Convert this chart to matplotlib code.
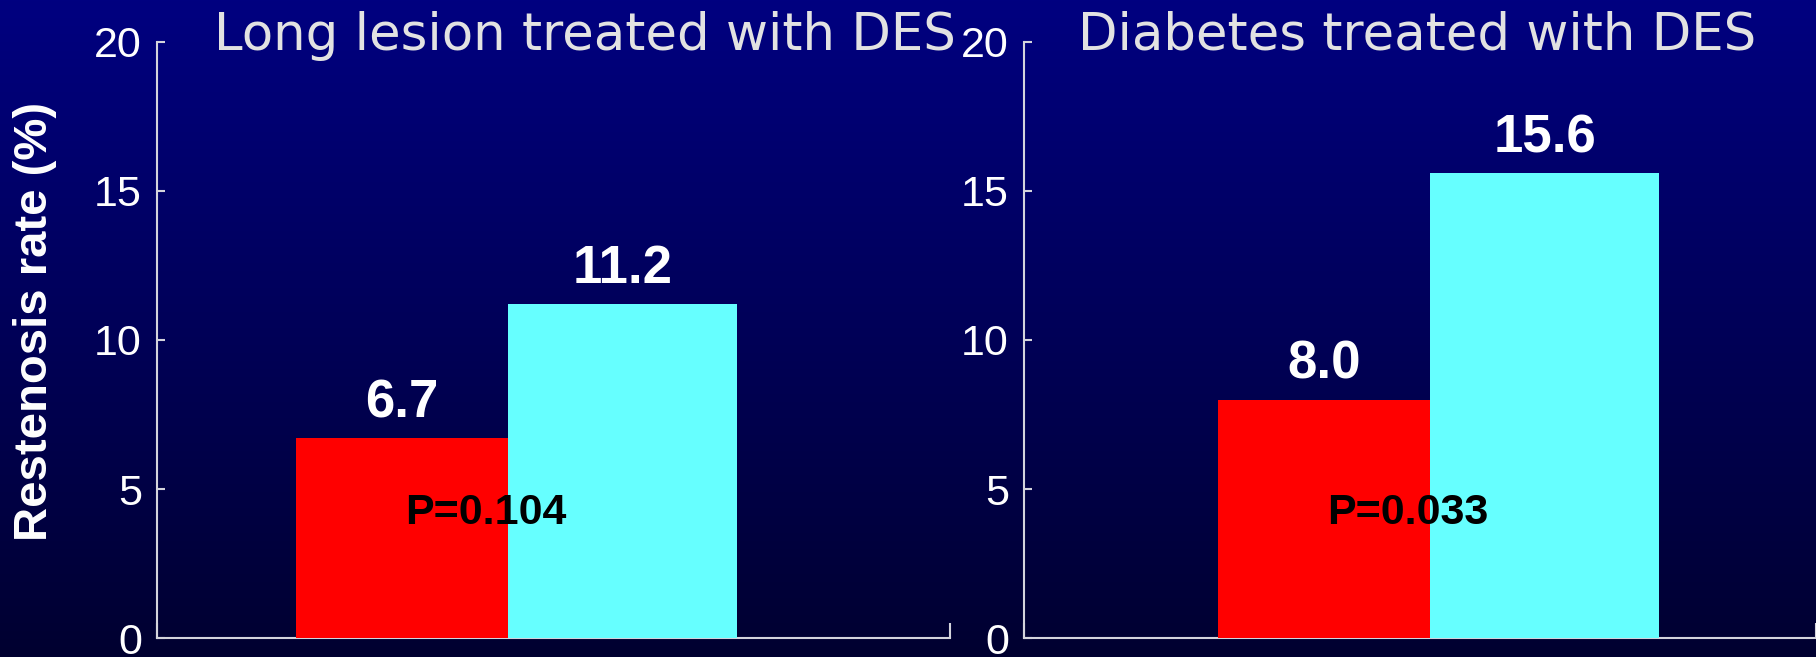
import numpy as np
import matplotlib.pyplot as plt
from matplotlib.colors import LinearSegmentedColormap

# --- restenosis data ---
groups = ['Long lesion treated with DES', 'Diabetes treated with DES']
red_vals = [6.7, 8.0]
cyan_vals = [11.2, 15.6]
p_labels = ['P=0.104', 'P=0.033']
yticks = [0, 5, 10, 15, 20]

AXIS_COL = '#d4d4dc'
RED = '#ff0000'
CYAN = '#66ffff'
TITLE_COL = '#e2e2e2'

fig = plt.figure(figsize=(18.16, 6.57), dpi=100)

# navy -> near-black vertical gradient behind everything
bg = fig.add_axes([0, 0, 1, 1], zorder=-10)
grad = np.linspace(0, 1, 256).reshape(-1, 1)
cmap = LinearSegmentedColormap.from_list('bg', ['#000080', '#000030'])
bg.imshow(grad, aspect='auto', cmap=cmap, extent=[0, 1, 0, 1], origin='upper')
bg.axis('off')

# axes boxes, bar widths and x-limits for each panel
panels = [
    dict(rect=[0.0865, 0.0289, 0.4367, 0.9072], xlim=(-1.110, 2.486),
         title_x=585 / 1816),
    dict(rect=[0.5639, 0.0289, 0.4361, 0.9072], xlim=(-1.361, 2.231),
         title_x=1417 / 1816),
]
widths = [0.961, 1.039]

for i, p in enumerate(panels):
    ax = fig.add_axes(p['rect'])
    ax.set_facecolor('none')
    ax.bar(0, red_vals[i], width=widths[0], color=RED, zorder=3)
    ax.bar(1, cyan_vals[i], width=widths[1], color=CYAN, zorder=3)

    for x, v in [(0, red_vals[i]), (1, cyan_vals[i])]:
        ax.annotate(f'{v:.1f}', xy=(x, v), xytext=(0, 15),
                    textcoords='offset points', ha='center', va='baseline',
                    color='white', fontsize=38, fontweight='bold',
                    family=['Liberation Sans'], zorder=5)

    ax.text(0.38, 4.2, p_labels[i], ha='center', va='center',
            fontsize=31, fontweight='bold', color='black',
            family=['Liberation Sans Narrow', 'Liberation Sans'], zorder=5)

    ax.set_xlim(*p['xlim'])
    ax.set_ylim(0, 20)
    ax.set_yticks(yticks)
    ax.set_xticks(list(p['xlim']))
    ax.set_xticklabels([])
    ax.tick_params(axis='y', direction='in', length=6, width=1.5,
                   color=AXIS_COL, labelcolor='white', labelsize=31, pad=11)
    ax.tick_params(axis='x', direction='in', length=11, width=1.5,
                   color=AXIS_COL)
    for lbl in ax.get_yticklabels():
        lbl.set_family(['Liberation Sans'])
    for s in ['top', 'right']:
        ax.spines[s].set_visible(False)
    for s in ['left', 'bottom']:
        ax.spines[s].set_color(AXIS_COL)
        ax.spines[s].set_linewidth(1.5)
        ax.spines[s].set_zorder(2)

    fig.text(p['title_x'], 1 - 50 / 657, groups[i], ha='center',
             va='baseline', color=TITLE_COL, fontsize=37,
             family=['DejaVu Sans'])

fig.text(35 / 1816, 1 - 321 / 657, 'Restenosis rate (%)', rotation=90,
         ha='center', va='center', color='white', fontsize=34,
         fontweight='bold', family=['Liberation Sans'])

fig.savefig('out.png', dpi=100)
